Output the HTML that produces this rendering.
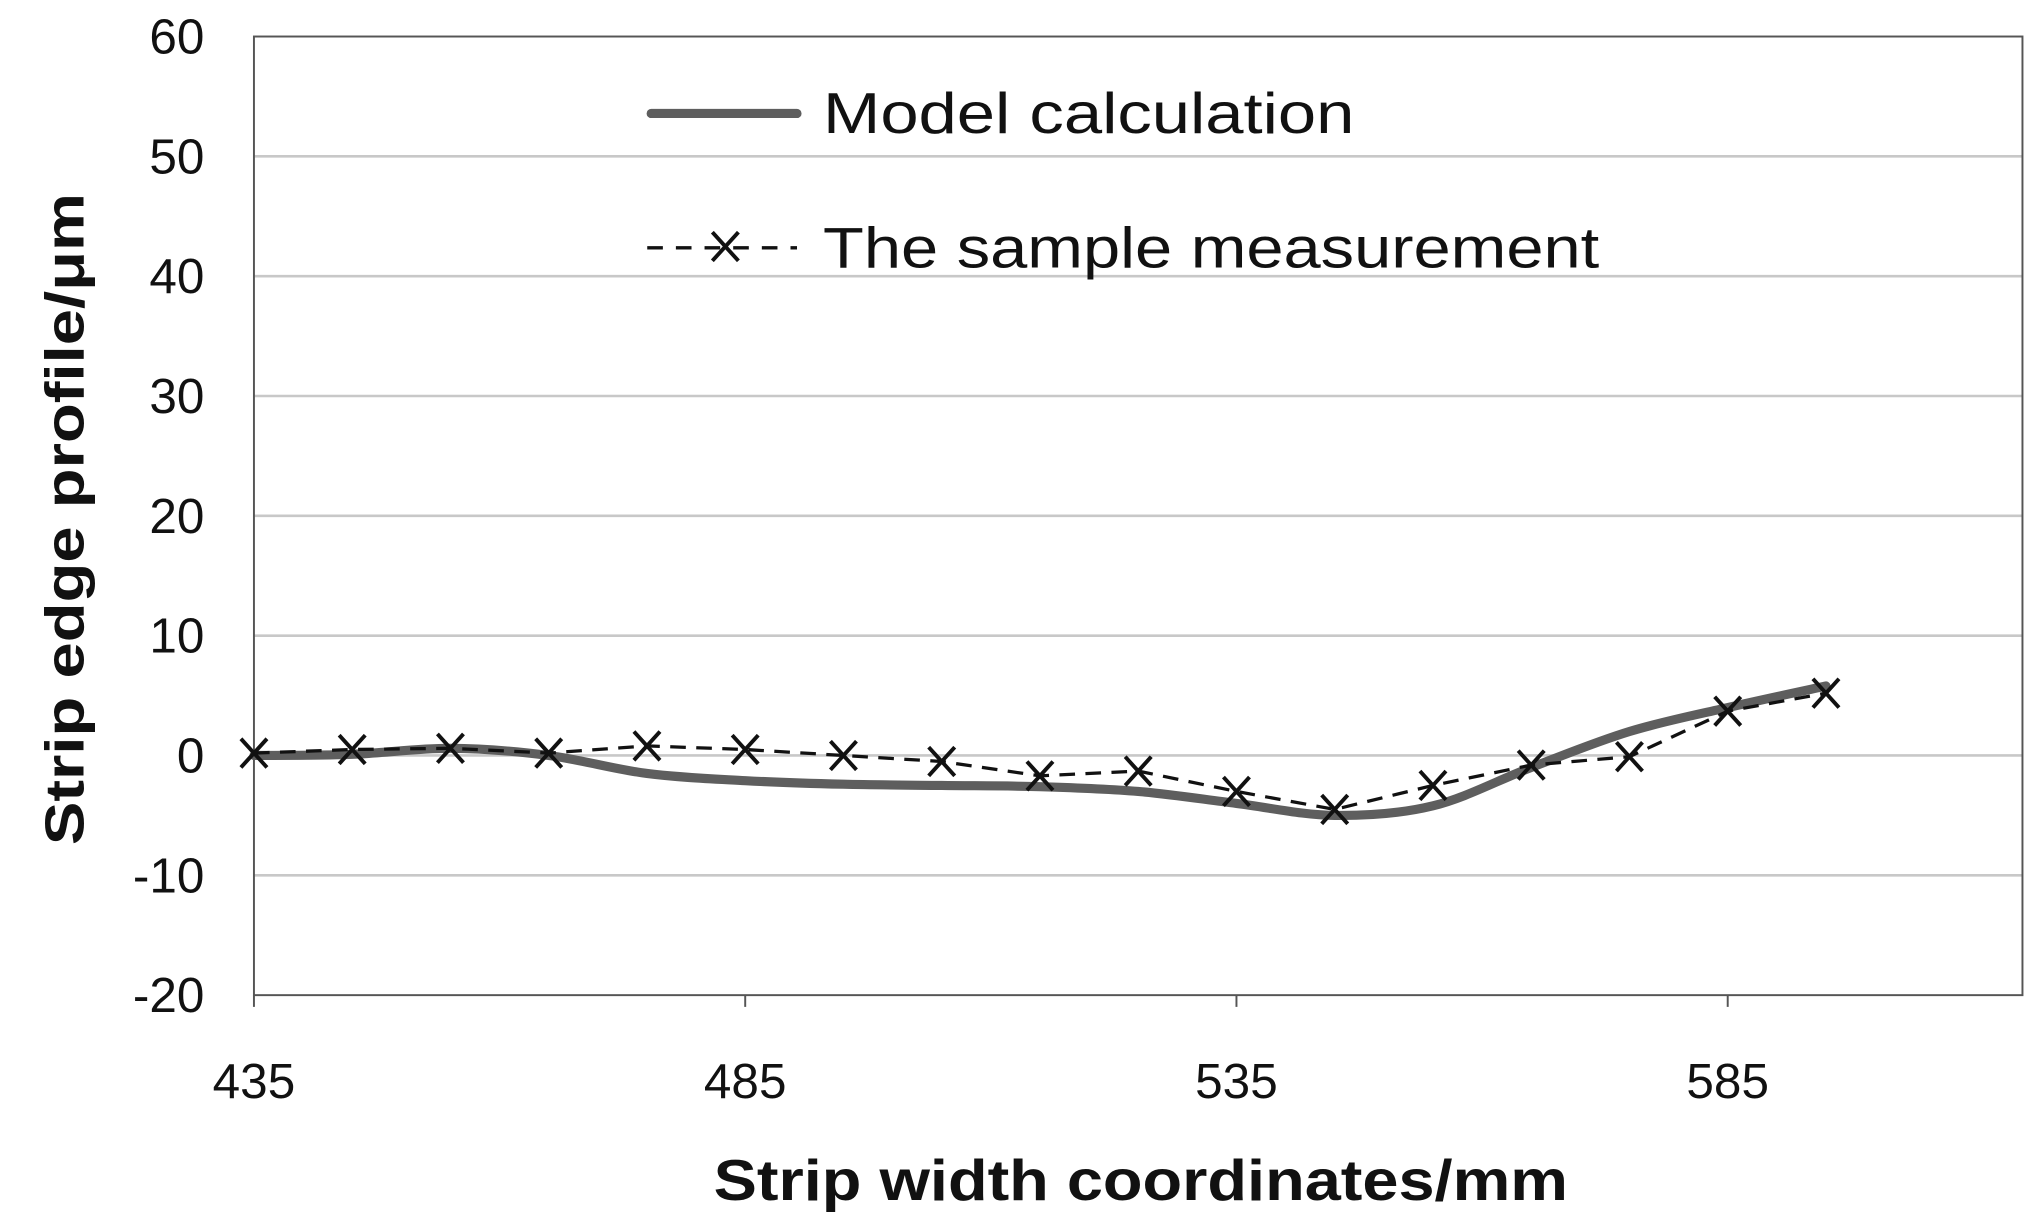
<!DOCTYPE html>
<html><head><meta charset="utf-8"><style>
html,body{margin:0;padding:0;background:#fff;}
svg{display:block;}
text{font-family:"Liberation Sans",sans-serif;}
</style></head><body>
<svg id="chart" width="2042" height="1226" viewBox="0 0 1568 940" preserveAspectRatio="none" xmlns="http://www.w3.org/2000/svg">
<g id="grid"></g>
<g id="yticks"></g>
<g id="xticks"></g>
<rect x="195" y="28" width="1358" height="735" fill="none" stroke="#555" stroke-width="1.5"/>
<g id="series"></g>
<text transform="translate(64,398) rotate(-90)" text-anchor="middle" font-size="42" font-weight="bold" fill="#111" textLength="500" lengthAdjust="spacingAndGlyphs">Strip edge profile/μm</text>
<text x="876" y="920" text-anchor="middle" font-size="44" font-weight="bold" fill="#111" textLength="656" lengthAdjust="spacingAndGlyphs">Strip width coordinates/mm</text>
<g>
<line x1="500" y1="87" x2="612" y2="87" stroke="#5e5e5e" stroke-width="7" stroke-linecap="round"/>
<text x="632" y="102" font-size="44" fill="#111" textLength="408" lengthAdjust="spacingAndGlyphs">Model calculation</text>
<line x1="497" y1="190" x2="612" y2="190" stroke="#111" stroke-width="2.5" stroke-dasharray="12,10"/>
<path d="M547,178 L567,200 M547,200 L567,178" stroke="#111" stroke-width="3"/>
<text x="632" y="205" font-size="44" fill="#111" textLength="596" lengthAdjust="spacingAndGlyphs">The sample measurement</text>
</g>
</svg>
<script>
const xPos = [435,445,455,465,475,485,495,505,515,525,535,545,555,565,575,585,595];
const modelVals = [0,0.1,0.6,0,-1.5,-2.1,-2.4,-2.5,-2.6,-3.0,-4.0,-5.0,-4.2,-1.0,2.0,4.0,5.8];
const measureVals = [0.2,0.5,0.6,0.2,0.8,0.5,0.0,-0.5,-1.7,-1.3,-3.0,-4.5,-2.5,-0.8,-0.1,3.7,5.2];
const yTicks = [-20,-10,0,10,20,30,40,50,60];
const xTicks = [435,485,535,585];
const NS="http://www.w3.org/2000/svg";
function X(v){return 195+(v-435)*(1358/180);}
function Y(v){return 763-(v+20)*(735/80);}
function mk(t,a,p){const e=document.createElementNS(NS,t);for(const k in a)e.setAttribute(k,a[k]);p.appendChild(e);return e;}
const grid=document.getElementById('grid'),yt=document.getElementById('yticks'),xt=document.getElementById('xticks'),ser=document.getElementById('series');
yTicks.forEach(v=>{
  if(v>-20&&v<60){const l=mk('line',{x1:195,x2:1553,y1:Y(v),y2:Y(v),stroke:'#c8c8c8','stroke-width':2},grid);
  
  }
  const t=mk('text',{x:157,y:Y(v)+13,'text-anchor':'end','font-size':38,fill:'#111'},yt);
  t.textContent=v;
  
  
});
xTicks.forEach(v=>{
  const l=mk('line',{x1:X(v),x2:X(v),y1:763,y2:772,stroke:'#555','stroke-width':1.5},xt);
  
  
  const t=mk('text',{x:X(v),y:842,'text-anchor':'middle','font-size':38,fill:'#111'},xt);
  t.textContent=v;
  
  
});
const mp=xPos.map((x,i)=>[X(x),Y(modelVals[i])]);
let d='M'+mp[0][0]+','+mp[0][1];
for(let i=0;i<mp.length-1;i++){
  const p0=mp[Math.max(0,i-1)],p1=mp[i],p2=mp[i+1],p3=mp[Math.min(mp.length-1,i+2)];
  d+=' C'+(p1[0]+(p2[0]-p0[0])/6)+','+(p1[1]+(p2[1]-p0[1])/6)+' '+(p2[0]-(p3[0]-p1[0])/6)+','+(p2[1]-(p3[1]-p1[1])/6)+' '+p2[0]+','+p2[1];
}
const mpath=mk('path',{d:d,fill:'none',stroke:'#5e5e5e','stroke-width':7,'stroke-linecap':'round'},ser);


const pts=xPos.map((x,i)=>X(x)+','+Y(measureVals[i])).join(' ');
const ml=mk('polyline',{points:pts,fill:'none',stroke:'#111','stroke-width':2.5,'stroke-dasharray':'12,8'},ser);


xPos.forEach((x,i)=>{
  const cx=X(x),cy=Y(measureVals[i]);
  const m=mk('path',{d:`M${cx-10},${cy-11} L${cx+10},${cy+11} M${cx-10},${cy+11} L${cx+10},${cy-11}`,stroke:'#111','stroke-width':3},ser);
  
  
});
</script>
</body></html>
